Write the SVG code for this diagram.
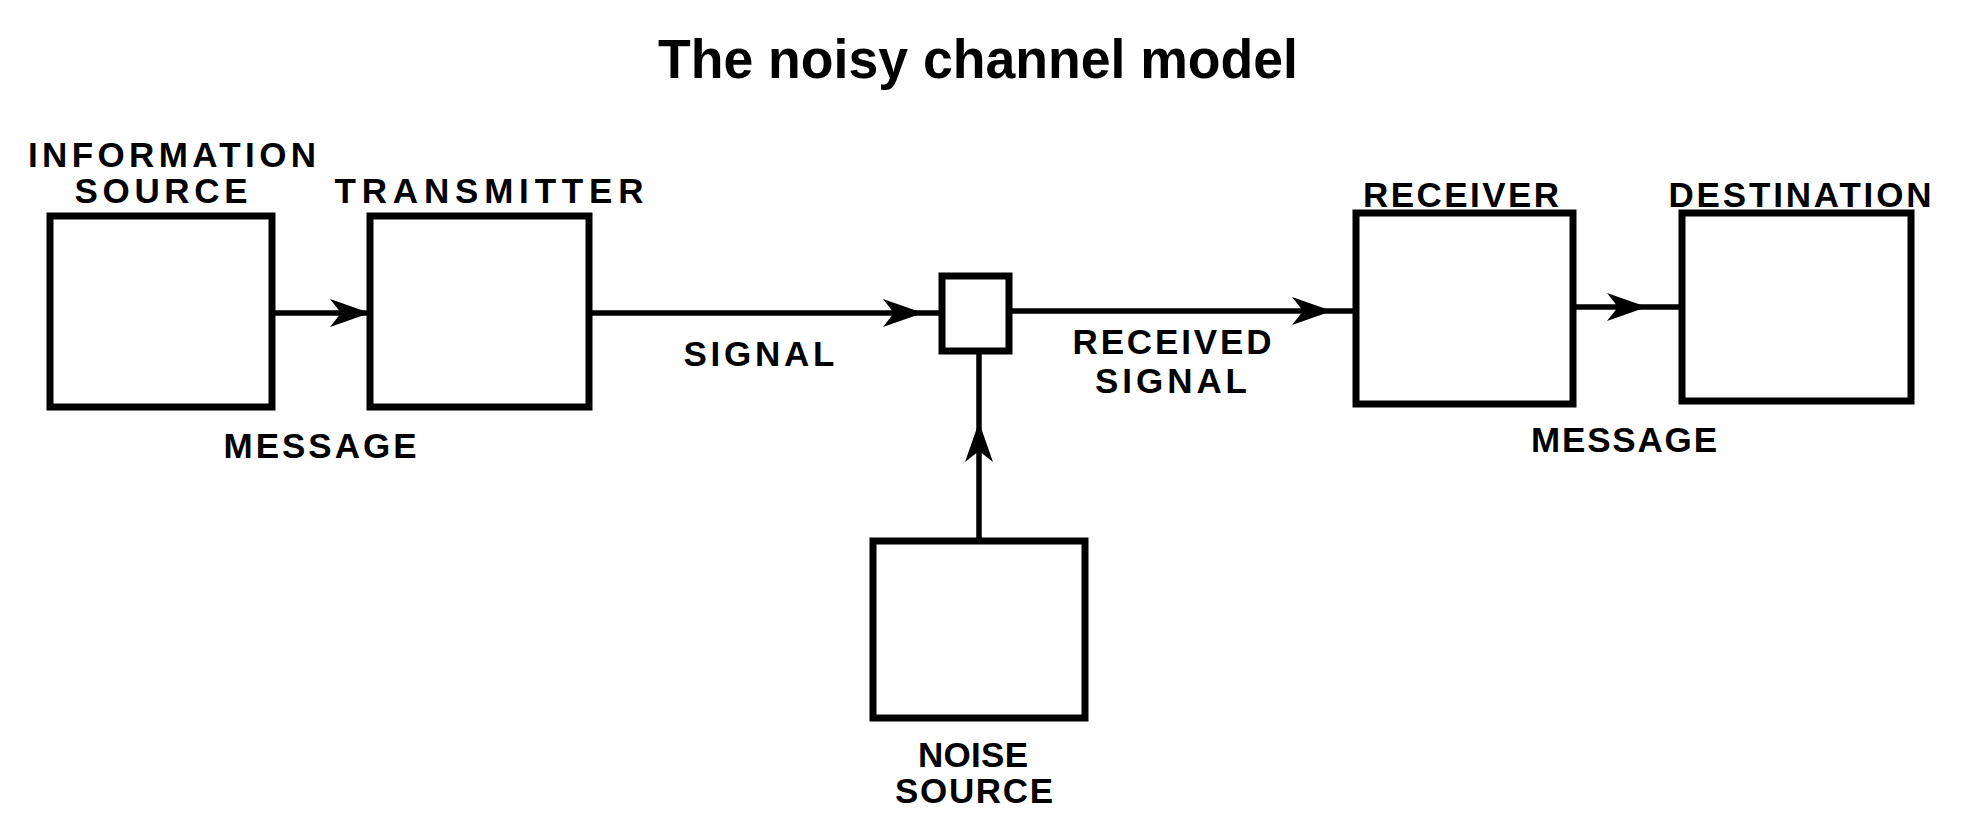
<svg xmlns="http://www.w3.org/2000/svg" width="1965" height="834" viewBox="0 0 1965 834">
<style>
.box{fill:#fff;stroke:#000;stroke-width:7}
.ln{stroke:#000;stroke-width:5.5;fill:none}
.lbl{font-family:"Liberation Sans",Arial,sans-serif;font-weight:bold;font-size:35px;fill:#000;text-anchor:middle}
.title{font-family:"Liberation Sans",Arial,sans-serif;font-weight:bold;font-size:56px;fill:#000;text-anchor:middle}
</style>
<defs>
<marker id="arr" markerUnits="userSpaceOnUse" markerWidth="46" markerHeight="36" refX="40" refY="18" orient="auto" viewBox="0 0 46 36">
<path d="M2,4 L42,18 L2,32 L13,18 Z" fill="#000"/>
</marker>
</defs>
<rect width="1965" height="834" fill="#fff"/>
<text class="title" x="978" y="78" textLength="640" lengthAdjust="spacingAndGlyphs">The noisy channel model</text>
<g id="connectors">
<line class="ln" x1="272" y1="313" x2="368" y2="313" marker-end="url(#arr)"/>
<line class="ln" x1="589" y1="313" x2="921" y2="313" marker-end="url(#arr)"/>
<line class="ln" x1="921" y1="313" x2="942" y2="313"/>
<line class="ln" x1="1009" y1="311" x2="1330" y2="311" marker-end="url(#arr)"/>
<line class="ln" x1="1330" y1="311" x2="1356" y2="311"/>
<line class="ln" x1="1573" y1="307" x2="1645" y2="307" marker-end="url(#arr)"/>
<line class="ln" x1="1645" y1="307" x2="1682" y2="307"/>
<line class="ln" x1="979" y1="541" x2="979" y2="424" marker-end="url(#arr)"/>
<line class="ln" x1="979" y1="424" x2="979" y2="351"/>
</g>
<g id="information-source">
<rect class="box" x="50" y="216" width="222" height="191"/>
<text class="lbl" x="172" y="167" textLength="288" lengthAdjust="spacing">INFORMATION</text>
<text class="lbl" x="161" y="203" textLength="173" lengthAdjust="spacing">SOURCE</text>
</g>
<g id="transmitter">
<rect class="box" x="370" y="216" width="219" height="191"/>
<text class="lbl" x="489" y="203" textLength="309" lengthAdjust="spacing">TRANSMITTER</text>
</g>
<g id="message-label-1">
<text class="lbl" x="320" y="458" textLength="193" lengthAdjust="spacing">MESSAGE</text>
</g>
<g id="signal-label">
<text class="lbl" x="759" y="366" textLength="151" lengthAdjust="spacing">SIGNAL</text>
</g>
<g id="channel">
<rect class="box" x="942" y="276" width="67" height="75"/>
</g>
<g id="received-signal-label">
<text class="lbl" x="1172" y="354" textLength="199" lengthAdjust="spacing">RECEIVED</text>
<text class="lbl" x="1171" y="393" textLength="152" lengthAdjust="spacing">SIGNAL</text>
</g>
<g id="receiver">
<rect class="box" x="1356" y="213" width="217" height="191"/>
<text class="lbl" x="1461" y="207" textLength="196" lengthAdjust="spacing">RECEIVER</text>
</g>
<g id="destination">
<rect class="box" x="1682" y="213" width="229" height="188"/>
<text class="lbl" x="1800" y="207" textLength="263" lengthAdjust="spacing">DESTINATION</text>
</g>
<g id="message-label-2">
<text class="lbl" x="1624" y="452" textLength="186" lengthAdjust="spacing">MESSAGE</text>
</g>
<g id="noise-source">
<rect class="box" x="873" y="541" width="212" height="177"/>
<text class="lbl" x="973" y="767" textLength="110" lengthAdjust="spacing">NOISE</text>
<text class="lbl" x="974" y="803" textLength="158" lengthAdjust="spacing">SOURCE</text>
</g>
</svg>
